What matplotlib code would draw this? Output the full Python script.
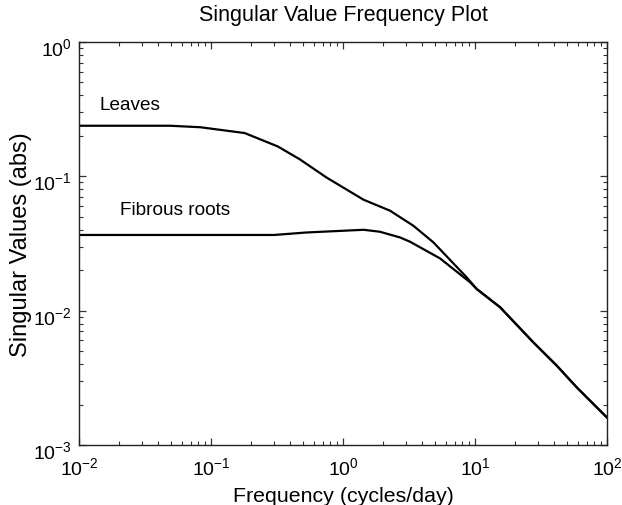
import matplotlib
matplotlib.use("Agg")
import matplotlib.pyplot as plt
import matplotlib.transforms as mtransforms
from matplotlib.ticker import LogLocator

plt.rcParams['font.family'] = ['Liberation Sans', 'DejaVu Sans']
plt.rcParams['mathtext.fontset'] = 'custom'
plt.rcParams['mathtext.rm'] = 'Liberation Sans'
plt.rcParams['mathtext.it'] = 'Liberation Sans'

leaves_freq = [0.01, 0.049, 0.083, 0.18, 0.32, 0.47, 0.75, 1.43, 2.27, 3.41, 4.83,
               8.65, 10.3, 15.5, 27.7, 41.6, 58.9, 100]
leaves_sv = [0.238, 0.238, 0.232, 0.21, 0.167, 0.134, 0.098, 0.067, 0.0555, 0.0429,
             0.0323, 0.0177, 0.0145, 0.0106, 0.0058, 0.0039, 0.00269, 0.0016]

roots_freq = [0.01, 0.3, 0.53, 1.43, 1.9, 2.7, 3.22, 5.43, 9.16, 10.3, 15.5, 27.7,
              41.6, 58.9, 100]
roots_sv = [0.0366, 0.0366, 0.0382, 0.040, 0.0387, 0.0351, 0.0326, 0.0245, 0.0163,
            0.0145, 0.0106, 0.0058, 0.0039, 0.00269, 0.0016]

fig = plt.figure(figsize=(6.22, 5.06), dpi=100)
ax = fig.add_axes([79/622, 1-446/506, (607-79)/622, (446-43)/506])

ax.plot(leaves_freq, leaves_sv, color='black', lw=1.6)
ax.plot(roots_freq, roots_sv, color='black', lw=1.6)
ax.set_xscale('log')
ax.set_yscale('log')
ax.set_xlim(1e-2, 1e2)
ax.set_ylim(1e-3, 1e0)

ax.xaxis.set_major_locator(LogLocator(base=10, numticks=10))
ax.yaxis.set_major_locator(LogLocator(base=10, numticks=10))
ax.tick_params(which='both', direction='in', top=True, right=True, color='#333333')
ax.tick_params(which='major', length=5, width=0.9, labelsize=14)
ax.tick_params(axis='x', which='major', pad=8)
ax.tick_params(axis='y', which='major', pad=5)
ax.tick_params(which='minor', length=3, width=0.8)
for s in ax.spines.values():
    s.set_linewidth(1.0)
    s.set_color('#222222')

fig.canvas.draw()
offset = mtransforms.ScaledTranslation(0, -4/100, fig.dpi_scale_trans)
for lab in ax.get_yticklabels():
    lab.set_transform(lab.get_transform() + offset)

ax.text(0.0143, 0.345, 'Leaves', fontsize=13.7, va='center', ha='left')
ax.text(0.0203, 0.0563, 'Fibrous roots', fontsize=13.7, va='center', ha='left')

ax.set_title('Singular Value Frequency Plot', fontsize=15.5, pad=16)
ax.set_xlabel('Frequency (cycles/day)', fontsize=15.4, labelpad=6)
ax.set_ylabel('Singular Values (abs)', fontsize=17, labelpad=1)

fig.savefig('out.png', dpi=100)
